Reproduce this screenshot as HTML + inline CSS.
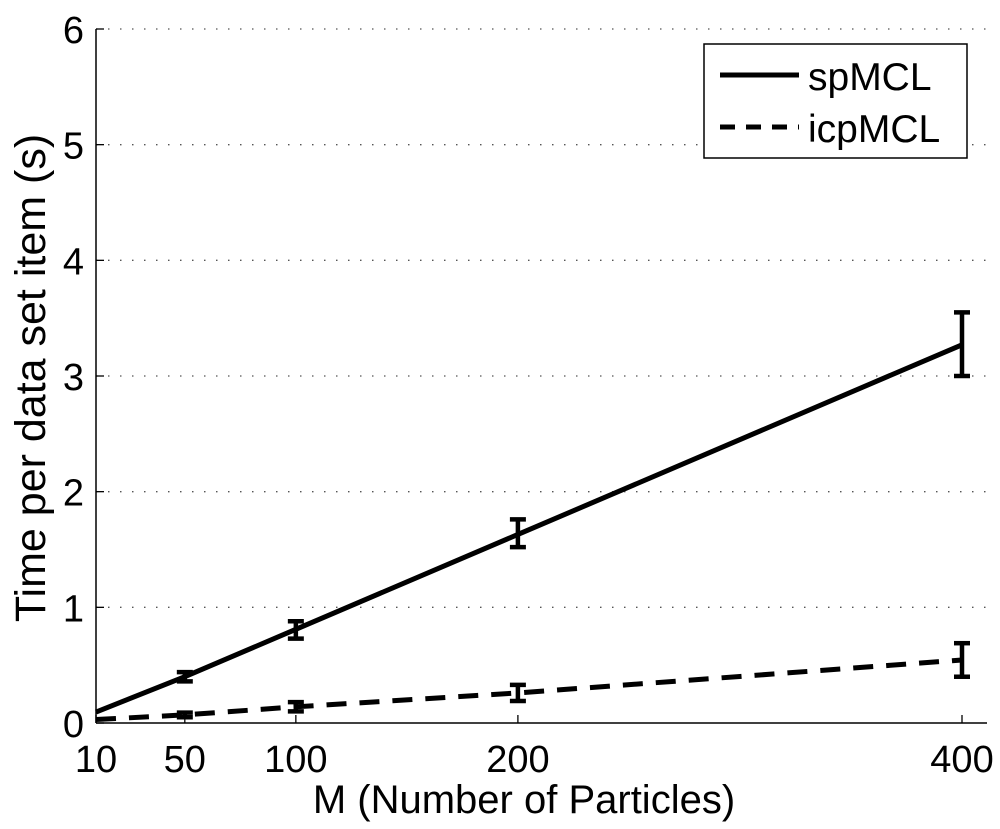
<!DOCTYPE html>
<html><head><meta charset="utf-8"><style>
html,body{margin:0;padding:0;background:#fff;}
svg{display:block;font-family:"Liberation Sans","DejaVu Sans",sans-serif;}
</style></head><body>
<svg id="chart" width="1000" height="829" viewBox="0 0 1000 829">
<g id="grid"></g>
<g id="axes"></g>
<g id="series"></g>
<text x="0" y="0" font-size="43" text-anchor="middle" transform="translate(45 378) rotate(-90)">Time per data set item (s)</text>
<text x="524" y="813" font-size="40" text-anchor="middle">M (Number of Particles)</text>
<g>
<rect x="704" y="44" width="263" height="114" fill="#fff" stroke="#000" stroke-width="1.5"/>
<g>
<line x1="720" y1="75" x2="799" y2="75" stroke="#000" stroke-width="5"/>
<text x="808" y="90" font-size="39">spMCL</text>
</g>
<g>
<line x1="720" y1="127" x2="799" y2="127" stroke="#000" stroke-width="5" stroke-dasharray="15,11"/>
<text x="808" y="142" font-size="39">icpMCL</text>
</g>
</g>
</svg>
<script>
const categories = [10, 50, 100, 200, 400];
const spMCL = [0.095, 0.40, 0.81, 1.63, 3.27];
const spLow = [0.08, 0.36, 0.73, 1.52, 3.0];
const spHigh = [0.11, 0.44, 0.88, 1.76, 3.55];
const icpMCL = [0.03, 0.07, 0.14, 0.26, 0.545];
const icpLow = [0.02, 0.05, 0.10, 0.19, 0.40];
const icpHigh = [0.04, 0.09, 0.18, 0.33, 0.69];
const xTicks = [10, 50, 100, 200, 400];
const yTicks = [0, 1, 2, 3, 4, 5, 6];

const NS = "http://www.w3.org/2000/svg";
const X0 = 96, X1 = 987;
function xs(v){ return 96 + (v - 10) * (962 - 96) / 390; }
function ys(v){ return 723 - v * (723 - 29) / 6; }
function mk(tag, attrs, parent){
  const e = document.createElementNS(NS, tag);
  for (const k in attrs) e.setAttribute(k, attrs[k]);
  parent.appendChild(e); return e;
}
const grid = document.getElementById('grid');
const axes = document.getElementById('axes');
const series = document.getElementById('series');

yTicks.forEach(t => {
  if (t > 0) {
    const g = mk('line', {x1: X0, x2: X1, y1: ys(t), y2: ys(t), stroke: '#555', 'stroke-width': 1.3, 'stroke-dasharray': '1.5,10.5'}, grid);
    
    
  }
  const tk = mk('line', {x1: X0, x2: X0 + 8, y1: ys(t), y2: ys(t), stroke: '#000', 'stroke-width': 1.3}, axes);
  
  
  const lb = mk('text', {x: 84, y: ys(t) + 14, 'font-size': 38, 'text-anchor': 'end'}, axes);
  lb.textContent = t;
  
  
});
xTicks.forEach(t => {
  const tk = mk('line', {x1: xs(t), x2: xs(t), y1: 723, y2: 715, stroke: '#000', 'stroke-width': 1.3}, axes);
  
  
  const lb = mk('text', {x: xs(t), y: 772, 'font-size': 38, 'text-anchor': 'middle'}, axes);
  lb.textContent = t;
  
  
});
const xa = mk('line', {x1: X0, x2: X1, y1: 723, y2: 723, stroke: '#000', 'stroke-width': 1.5}, axes);


const ya = mk('line', {x1: X0, x2: X0, y1: 29, y2: 723, stroke: '#000', 'stroke-width': 1.5}, axes);



function drawSeries(name, vals, lo, hi, dash){
  const pts = categories.map((c, i) => xs(c) + ',' + ys(vals[i])).join(' ');
  const attrs = {points: pts, fill: 'none', stroke: '#000', 'stroke-width': 5};
  if (dash) attrs['stroke-dasharray'] = dash;
  const pl = mk('polyline', attrs, series);
  
  
  categories.forEach((c, i) => {
    if (c === 10) return;
    const g = mk('g', {stroke: '#000', 'stroke-width': 4.5}, series);
    
    
    const x = xs(c);
    mk('line', {x1: x, x2: x, y1: ys(lo[i]), y2: ys(hi[i])}, g);
    mk('line', {x1: x - 8, x2: x + 8, y1: ys(lo[i]), y2: ys(lo[i])}, g);
    mk('line', {x1: x - 8, x2: x + 8, y1: ys(hi[i]), y2: ys(hi[i])}, g);
  });
}
drawSeries('spmcl', spMCL, spLow, spHigh, null);
drawSeries('icpmcl', icpMCL, icpLow, icpHigh, '20,13');
</script>
</body></html>
